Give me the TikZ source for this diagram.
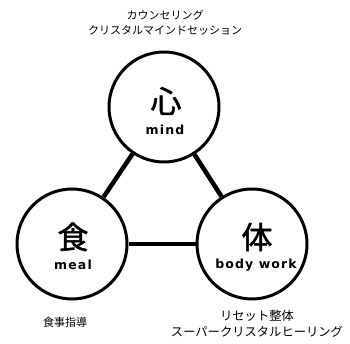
\documentclass[tikz,border=0pt]{standalone}
\usepackage{fontspec}
\setmainfont{DejaVu Sans}
\newfontfamily\engf{DejaVu Sans Bold}[LetterSpace=9]
\newfontfamily\jp{Noto Sans CJK JP}
\newfontfamily\jpb{Noto Sans CJK JP}[FakeBold=1.5]
\begin{document}
\begin{tikzpicture}[x=1pt,y=1pt,
  circ/.style={circle,draw=black,line width=3pt,minimum size=110pt,inner sep=0pt},
  conn/.style={line width=4.5pt},
  kanji/.style={font=\jpb\fontsize{31}{31}\selectfont},
  eng/.style={font=\engf\fontsize{12.5}{13}\selectfont},
  captxt/.style={font=\jp\fontsize{11}{15}\selectfont,align=center}]
\useasboundingbox (0,0) rectangle (350,344);
\node[circ] (mind) at (164,237) {};
\node[circ] (meal) at (72,100) {};
\node[circ] (body) at (252,100) {};
\draw[conn] (mind) -- (meal);
\draw[conn] (mind) -- (body);
\draw[conn] (meal) -- (body);
\node[kanji] (k1) at (166,243) {心};
\node[eng] (e1) at (165,214) {mind};
\node[kanji] (k2) at (73,107) {食};
\node[eng] (e2) at (73,79) {meal};
\node[kanji] (k3) at (257,107) {体};
\node[eng] (e3) at (256,79) {body work};
\node[captxt] (t1) at (165,321) {カウンセリング\\クリスタルマインドセッション};
\node[captxt] (t2) at (65,22) {食事指導};
\node[captxt,font=\jp\fontsize{12.3}{16}\selectfont] (t3) at (257,20) {リセット整体\\スーパークリスタルヒーリング};
\end{tikzpicture}
\end{document}
